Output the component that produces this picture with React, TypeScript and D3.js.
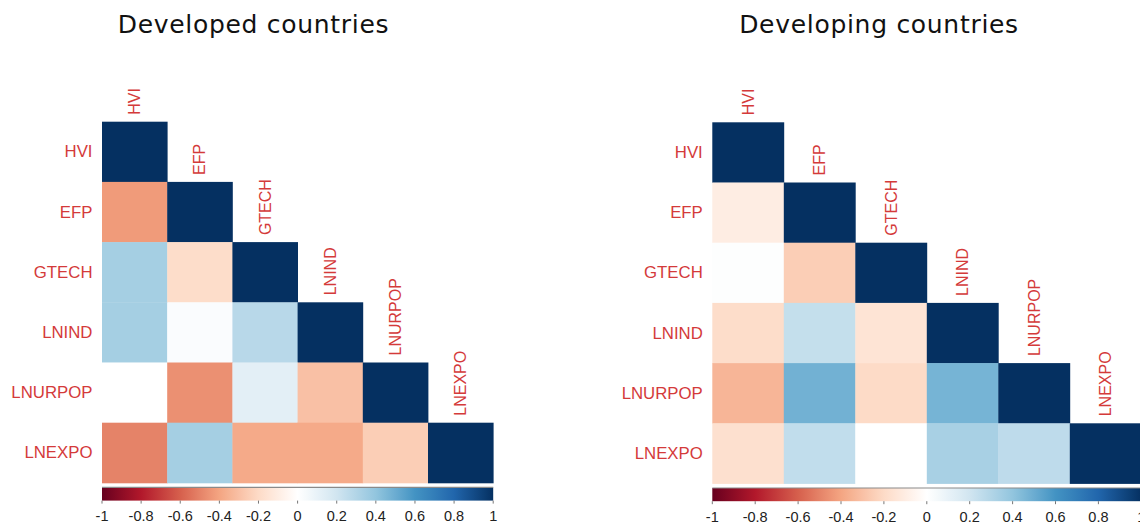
import * as d3 from "d3";

// variable names shared by both panels
const variables = ["HVI", "EFP", "GTECH", "LNIND", "LNURPOP", "LNEXPO"];

// lower-triangle correlations, row by row
const developedCorr = [
  [1],
  [-0.43, 1],
  [0.34, -0.19, 1],
  [0.34, 0.02, 0.28, 1],
  [0.0, -0.46, 0.12, -0.3, 1],
  [-0.5, 0.34, -0.38, -0.38, -0.25, 1],
];

const developingCorr = [
  [1],
  [-0.1, 1],
  [0.01, -0.25, 1],
  [-0.19, 0.24, -0.15, 1],
  [-0.34, 0.48, -0.2, 0.47, 1],
  [-0.17, 0.25, 0.0, 0.33, 0.26, 1],
];

const legendTicks = [-1, -0.8, -0.6, -0.4, -0.2, 0, 0.2, 0.4, 0.6, 0.8, 1];
const legendLabels = ["-1", "-0.8", "-0.6", "-0.4", "-0.2", "0", "0.2", "0.4", "0.6", "0.8", "1"];

// corrplot RdBu palette
const paletteStops = ["#67001F", "#B2182B", "#D6604D", "#F4A582", "#FDDBC7", "#FFFFFF",
  "#D1E5F0", "#92C5DE", "#4393C3", "#2166AC", "#053061"];

const color = d3
  .scaleLinear<string>()
  .domain(legendTicks)
  .range(paletteStops)
  .interpolate(d3.interpolateRgb);

const labelColor = "#d43a3a";
const labelFont = "'Liberation Sans', Arial, sans-serif";

function CorrPanel({
  id,
  title,
  titleX,
  values,
  left,
  top,
  cellW,
  cellH,
}: {
  id: string;
  title: string;
  titleX: number;
  values: number[][];
  left: number;
  top: number;
  cellW: number;
  cellH: number;
}) {
  const n = variables.length;
  const x = d3.scaleBand().domain(variables).range([left, left + n * cellW]);
  const y = d3.scaleBand().domain(variables).range([top, top + n * cellH]);

  const barTop = top + n * cellH + 4.5;
  const barH = 13.2;
  const legendX = d3.scaleLinear().domain([-1, 1]).range([left, left + n * cellW]);

  const cells = values.flatMap((row, i) =>
    row.map((v, j) => ({ r: variables[i], c: variables[j], v }))
  );

  return (
    <g>
      <text
        x={titleX}
        y={33}
        textAnchor="middle"
        fontFamily="'DejaVu Sans', Verdana, sans-serif"
        fontSize={25}
        letterSpacing={0.7}
        fill="#111"
      >
        {title}
      </text>

      {cells.map((d) => (
        <rect
          key={d.r + d.c}
          x={x(d.c)}
          y={y(d.r)}
          width={x.bandwidth() + 0.4}
          height={y.bandwidth() + 0.4}
          fill={color(d.v)}
        />
      ))}

      {/* row labels */}
      {variables.map((v) => (
        <text
          key={"r" + v}
          x={left - 9.5}
          y={(y(v) ?? 0) + cellH / 2}
          textAnchor="end"
          dominantBaseline="central"
          fontFamily={labelFont}
          fontSize={16.8}
          fill={labelColor}
        >
          {v}
        </text>
      ))}

      {/* column labels above the diagonal */}
      {variables.map((v) => {
        const cx = (x(v) ?? 0) + cellW / 2;
        const cy = (y(v) ?? 0) - 7;
        return (
          <text
            key={"c" + v}
            transform={`translate(${cx},${cy}) rotate(-90)`}
            textAnchor="start"
            dominantBaseline="central"
            fontFamily={labelFont}
            fontSize={16}
            fill={labelColor}
          >
            {v}
          </text>
        );
      })}

      {/* colour legend */}
      <defs>
        <linearGradient id={id} x1="0" x2="1" y1="0" y2="0">
          {d3.range(0, 41).map((k) => (
            <stop key={k} offset={`${(k / 40) * 100}%`} stopColor={color(-1 + k / 20)} />
          ))}
        </linearGradient>
      </defs>
      <rect
        x={legendX(-1)}
        y={barTop}
        width={legendX(1) - legendX(-1)}
        height={barH}
        fill={`url(#${id})`}
      />
      <line
        x1={legendX(-1)}
        x2={legendX(1)}
        y1={barTop}
        y2={barTop}
        stroke="#8a8a8a"
        strokeWidth={1.2}
      />
      {legendTicks.map((t, k) => (
        <g key={t}>
          <line
            x1={legendX(t)}
            x2={legendX(t)}
            y1={barTop + barH}
            y2={barTop + barH + 3}
            stroke="#777"
            strokeWidth={1}
          />
          <text
            x={legendX(t)}
            y={barTop + barH + 20.5}
            textAnchor="middle"
            fontFamily={labelFont}
            fontSize={14.5}
            fill="#222"
          >
            {legendLabels[k]}
          </text>
        </g>
      ))}
    </g>
  );
}

export default function App() {
  return (
    <svg
      width={1140}
      height={524}
      style={{ position: "absolute", left: 0, top: 0, background: "#fff" }}
    >
      <rect width={1140} height={524} fill="#fff" />
      <CorrPanel
        id="gradLeft"
        title="Developed countries"
        titleX={253.5}
        values={developedCorr}
        left={102}
        top={121.7}
        cellW={65.2}
        cellH={60.2}
      />
      <CorrPanel
        id="gradRight"
        title="Developing countries"
        titleX={879}
        values={developingCorr}
        left={712.3}
        top={122.3}
        cellW={71.5}
        cellH={60.2}
      />
    </svg>
  );
}
